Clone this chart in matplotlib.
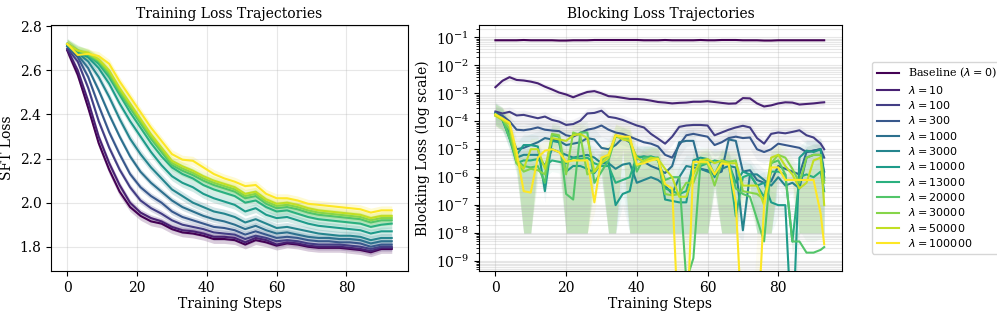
import numpy as np
import matplotlib
matplotlib.use("Agg")
import matplotlib.pyplot as plt
from matplotlib.ticker import LogLocator, NullFormatter

plt.rcParams['font.family'] = 'serif'

# lambda labels (same order for both panels)
labels = ['Baseline ($\\lambda=0$)', '$\\lambda=10$', '$\\lambda=100$', '$\\lambda=300$',
          '$\\lambda=1000$', '$\\lambda=3000$', '$\\lambda=10000$', '$\\lambda=13000$',
          '$\\lambda=20000$', '$\\lambda=30000$', '$\\lambda=50000$', '$\\lambda=100000$']

# ---- SFT loss, read every 3 training steps (0..93)
sft_steps = np.arange(0, 94, 3)
sft_base = [2.69, 2.58, 2.43, 2.27, 2.15, 2.05, 1.98, 1.94,
            1.915, 1.905, 1.88, 1.865, 1.86, 1.85, 1.835, 1.835,
            1.83, 1.81, 1.83, 1.82, 1.805, 1.815, 1.81, 1.80,
            1.795, 1.795, 1.795, 1.79, 1.785, 1.775, 1.79, 1.79]
sft_l10 = [2.695, 2.60, 2.46, 2.30, 2.18, 2.08, 2.00, 1.955,
           1.93, 1.915, 1.89, 1.875, 1.87, 1.86, 1.845, 1.845,
           1.84, 1.82, 1.84, 1.83, 1.81, 1.82, 1.815, 1.805,
           1.80, 1.80, 1.80, 1.795, 1.79, 1.78, 1.795, 1.795]
sft_l100 = [2.70, 2.64, 2.52, 2.37, 2.25, 2.15, 2.07, 2.01,
            1.975, 1.95, 1.92, 1.90, 1.89, 1.88, 1.865, 1.86,
            1.855, 1.835, 1.85, 1.84, 1.825, 1.83, 1.825, 1.815,
            1.81, 1.81, 1.81, 1.805, 1.80, 1.79, 1.80, 1.80]
sft_l300 = [2.71, 2.66, 2.57, 2.44, 2.32, 2.22, 2.13, 2.07,
            2.03, 2.00, 1.96, 1.935, 1.92, 1.905, 1.89, 1.885,
            1.875, 1.855, 1.87, 1.855, 1.84, 1.845, 1.84, 1.83,
            1.825, 1.825, 1.82, 1.82, 1.815, 1.80, 1.81, 1.81]
sft_l1000 = [2.71, 2.67, 2.61, 2.51, 2.40, 2.30, 2.21, 2.14,
             2.09, 2.05, 2.01, 1.98, 1.96, 1.94, 1.925, 1.915,
             1.90, 1.88, 1.895, 1.875, 1.86, 1.865, 1.855, 1.845,
             1.84, 1.84, 1.835, 1.835, 1.83, 1.815, 1.825, 1.825]
sft_l3000 = [2.71, 2.68, 2.64, 2.57, 2.48, 2.38, 2.29, 2.22,
             2.16, 2.11, 2.06, 2.03, 2.00, 1.98, 1.96, 1.95,
             1.935, 1.91, 1.925, 1.905, 1.885, 1.89, 1.88, 1.87,
             1.86, 1.855, 1.85, 1.85, 1.845, 1.83, 1.84, 1.84]
sft_l10000 = [2.72, 2.68, 2.66, 2.61, 2.54, 2.45, 2.37, 2.30,
              2.23, 2.17, 2.12, 2.09, 2.07, 2.04, 2.02, 2.005,
              1.99, 1.96, 1.975, 1.945, 1.93, 1.935, 1.92, 1.905,
              1.895, 1.89, 1.885, 1.88, 1.875, 1.86, 1.87, 1.87]
sft_l13000 = [2.72, 2.68, 2.67, 2.63, 2.57, 2.49, 2.41, 2.34,
              2.27, 2.21, 2.16, 2.13, 2.11, 2.08, 2.06, 2.045,
              2.03, 2.00, 2.01, 1.98, 1.96, 1.965, 1.95, 1.935,
              1.925, 1.92, 1.915, 1.91, 1.905, 1.89, 1.90, 1.905]
sft_l20000 = [2.72, 2.69, 2.67, 2.64, 2.58, 2.50, 2.43, 2.36,
              2.29, 2.23, 2.17, 2.145, 2.125, 2.10, 2.08, 2.065,
              2.05, 2.02, 2.03, 1.995, 1.975, 1.98, 1.97, 1.955,
              1.945, 1.94, 1.935, 1.93, 1.925, 1.91, 1.92, 1.92]
sft_l30000 = [2.72, 2.69, 2.675, 2.645, 2.59, 2.51, 2.44, 2.37,
              2.30, 2.24, 2.18, 2.155, 2.135, 2.11, 2.09, 2.075,
              2.06, 2.03, 2.04, 2.005, 1.985, 1.99, 1.98, 1.965,
              1.955, 1.95, 1.945, 1.94, 1.935, 1.92, 1.93, 1.93]
sft_l50000 = [2.72, 2.69, 2.68, 2.65, 2.60, 2.52, 2.45, 2.38,
              2.31, 2.25, 2.19, 2.165, 2.145, 2.12, 2.10, 2.085,
              2.07, 2.04, 2.05, 2.015, 1.995, 2.00, 1.99, 1.975,
              1.965, 1.96, 1.955, 1.95, 1.945, 1.93, 1.94, 1.94]
sft_l100000 = [2.72, 2.67, 2.675, 2.665, 2.63, 2.55, 2.48, 2.41,
               2.34, 2.28, 2.22, 2.195, 2.19, 2.16, 2.13, 2.11,
               2.095, 2.075, 2.08, 2.04, 2.02, 2.02, 2.01, 1.995,
               1.99, 1.985, 1.98, 1.975, 1.97, 1.955, 1.965, 1.965]
sft_std = [0.02, 0.015, 0.015, 0.015, 0.015, 0.02, 0.02, 0.02, 0.025, 0.02, 0.02, 0.02]

# ---- blocking loss, log10 values read every 2 steps (plus last step)
blk_steps = np.r_[np.arange(0, 93, 2), 93]
blk_base = [-1.10, -1.10, -1.10, -1.10, -1.09, -1.10, -1.10, -1.10,
            -1.10, -1.11, -1.11, -1.10, -1.10, -1.10, -1.09, -1.09,
            -1.09, -1.09, -1.09, -1.09, -1.09, -1.10, -1.10, -1.10,
            -1.09, -1.10, -1.10, -1.10, -1.10, -1.09, -1.10, -1.10,
            -1.09, -1.09, -1.09, -1.10, -1.10, -1.10, -1.11, -1.11,
            -1.10, -1.10, -1.10, -1.10, -1.10, -1.10, -1.10, -1.10]
blk_l10 = [-2.78, -2.55, -2.42, -2.52, -2.54, -2.58, -2.64, -2.76,
           -2.86, -2.97, -3.04, -3.14, -3.04, -2.95, -2.92, -3.00,
           -3.10, -3.12, -3.16, -3.20, -3.20, -3.22, -3.26, -3.31,
           -3.33, -3.36, -3.34, -3.33, -3.30, -3.30, -3.28, -3.31,
           -3.34, -3.37, -3.36, -3.17, -3.18, -3.36, -3.47, -3.43,
           -3.36, -3.32, -3.33, -3.40, -3.38, -3.36, -3.33, -3.32]
blk_l100 = [-3.65, -3.72, -3.66, -3.79, -3.77, -3.83, -3.89, -3.83,
            -3.95, -4.01, -4.13, -4.10, -3.98, -3.72, -3.70, -3.62,
            -3.84, -3.88, -3.95, -4.05, -4.15, -4.22, -4.45, -4.62,
            -4.80, -4.55, -4.20, -4.15, -4.13, -4.13, -4.15, -4.50,
            -4.40, -4.30, -4.22, -4.16, -4.22, -4.60, -4.80, -4.45,
            -4.40, -4.43, -4.38, -4.32, -4.50, -4.58, -4.80, -5.00]
blk_l300 = [-3.70, -3.80, -4.00, -4.30, -4.32, -4.28, -4.22, -4.30,
            -4.33, -4.35, -4.50, -4.55, -4.42, -4.30, -4.25, -4.15,
            -4.30, -4.40, -4.45, -4.55, -4.65, -4.75, -4.80, -4.90,
            -5.20, -5.30, -4.85, -4.50, -4.45, -4.50, -4.55, -4.85,
            -4.75, -4.60, -4.55, -4.60, -4.58, -5.00, -5.10, -5.00,
            -4.80, -4.85, -4.90, -4.95, -5.10, -5.05, -5.00, -5.30]
blk_l1000 = [-3.70, -3.90, -4.40, -5.00, -4.95, -4.85, -4.75, -4.60,
             -4.65, -4.70, -4.85, -4.80, -4.75, -4.60, -4.65, -4.95,
             -5.00, -4.85, -4.60, -4.75, -5.30, -5.45, -5.60, -5.70,
             -5.85, -5.60, -4.75, -4.70, -4.70, -5.70, -5.75, -5.90,
             -5.80, -4.65, -4.70, -5.80, -5.75, -6.10, -6.20, -6.15,
             -5.60, -5.70, -5.80, -5.90, -5.10, -5.05, -5.00, -6.00]
blk_l3000 = [-3.75, -3.90, -4.60, -5.30, -5.20, -5.20, -5.20, -5.60,
             -5.00, -5.10, -5.20, -5.30, -5.25, -5.20, -5.30, -5.50,
             -5.50, -5.70, -5.55, -5.50, -6.20, -6.10, -6.00, -6.10,
             -6.30, -6.60, -6.00, -5.60, -5.65, -5.70, -5.80, -5.90,
             -5.70, -5.60, -5.65, -7.90, -5.90, -5.90, -6.10, -6.30,
             -6.00, -6.30, -6.20, -6.40, -5.30, -5.20, -5.20, -5.80]
blk_l10000 = [-3.75, -3.95, -4.50, -5.20, -4.85, -4.85, -4.90, -6.50,
              -4.70, -4.75, -5.80, -5.60, -5.60, -5.70, -5.85, -5.50,
              -5.45, -7.00, -6.60, -6.50, -5.30, -5.25, -5.30, -5.30,
              -6.80, -6.85, -6.90, -6.90, -5.40, -5.30, -5.35, -6.00,
              -5.40, -5.50, -6.20, -5.80, -5.90, -6.30, -6.20, -6.90,
              -7.00, -7.00, -12.0, -5.30, -5.05, -5.10, -5.00, -6.10]
blk_l13000 = [-3.75, -3.95, -4.60, -5.50, -5.40, -5.40, -5.35, -5.60,
              -5.40, -5.45, -5.50, -5.30, -5.35, -5.30, -5.50, -5.60,
              -5.60, -6.20, -6.10, -6.00, -5.25, -5.30, -5.25, -5.35,
              -6.40, -6.50, -6.60, -6.50, -5.55, -5.60, -5.50, -5.40,
              -5.45, -5.50, -7.40, -6.00, -5.90, -6.30, -6.70, -5.80,
              -5.80, -5.90, -8.30, -6.00, -5.90, -6.00, -5.80, -6.50]
blk_l20000 = [-3.75, -3.90, -4.60, -5.40, -5.60, -5.65, -5.60, -6.20,
              -4.50, -4.55, -6.60, -6.80, -4.40, -4.40, -6.20, -5.80,
              -5.40, -4.55, -4.60, -4.70, -5.80, -5.30, -5.30, -5.40,
              -6.10, -6.00, -6.00, -9.70, -8.90, -5.50, -5.40, -5.90,
              -5.40, -5.45, -6.40, -6.60, -6.70, -7.50, -8.30, -5.50,
              -5.40, -5.90, -8.30, -8.30, -8.70, -8.70, -8.60, -8.50]
blk_l30000 = [-3.80, -3.90, -4.30, -5.50, -5.80, -5.70, -5.75, -5.90,
              -4.45, -4.50, -5.90, -4.40, -4.50, -5.90, -5.80, -5.40,
              -5.20, -4.50, -4.60, -4.60, -5.60, -5.40, -5.35, -5.30,
              -6.60, -6.65, -6.60, -6.20, -6.20, -5.50, -5.50, -6.30,
              -5.50, -5.45, -5.40, -6.50, -6.55, -6.60, -6.80, -5.50,
              -5.20, -5.30, -5.70, -6.20, -5.30, -5.20, -5.20, -6.20]
blk_l50000 = [-3.80, -3.95, -4.10, -5.40, -5.70, -5.00, -5.00, -5.70,
              -4.60, -4.65, -4.70, -4.50, -4.45, -4.60, -5.80, -5.50,
              -5.30, -4.50, -4.65, -4.70, -5.30, -5.45, -5.30, -5.35,
              -5.70, -6.00, -6.70, -6.70, -5.90, -5.40, -5.35, -5.50,
              -5.40, -5.50, -5.50, -6.30, -6.30, -6.30, -7.00, -5.30,
              -5.20, -5.60, -5.90, -6.40, -6.20, -5.40, -5.30, -7.00]
blk_l100000 = [-3.75, -3.90, -4.05, -5.10, -6.50, -6.55, -5.30, -5.05,
               -5.00, -5.10, -5.45, -5.40, -5.40, -5.40, -6.90, -5.30,
               -5.20, -4.50, -4.55, -4.55, -5.55, -5.50, -5.40, -5.35,
               -6.25, -6.40, -12.0, -12.0, -5.45, -5.45, -5.45, -5.90,
               -5.50, -5.55, -6.90, -12.0, -12.0, -12.0, -7.00, -5.65,
               -5.65, -6.10, -6.10, -6.10, -6.10, -6.10, -7.30, -8.40]
# relative spread of the shaded band around each mean
blk_spread = [0.1, 0.25, 0.5, 0.6, 1.5, 1.5, 1.5, 1.5, 1.5, 1.5, 1.5, 1.5]
# steps where the spread of the noisy runs reaches the 1e-8 floor
blk_deep = [0, 0, 0, 0, 1, 1, 0, 0,
            0, 0, 1, 1, 1, 1, 0, 0,
            1, 1, 0, 1, 1, 1, 1, 1,
            1, 1, 1, 1, 1, 1, 1, 0,
            1, 1, 1, 0, 0, 1, 1, 1,
            0, 0, 0, 1, 1, 1, 1, 1]

sft_all = [sft_base, sft_l10, sft_l100, sft_l300, sft_l1000, sft_l3000, sft_l10000,
           sft_l13000, sft_l20000, sft_l30000, sft_l50000, sft_l100000]
blk_all = [blk_base, blk_l10, blk_l100, blk_l300, blk_l1000, blk_l3000, blk_l10000,
           blk_l13000, blk_l20000, blk_l30000, blk_l50000, blk_l100000]

colors = plt.cm.viridis(np.linspace(0, 1, len(labels)))

fig = plt.figure(figsize=(9.97, 3.15), dpi=100)
ax1 = fig.add_axes([0.0512, 0.1397, 0.358, 0.781])
ax2 = fig.add_axes([0.4804, 0.1397, 0.364, 0.781])

# left: training loss
for i, y in enumerate(sft_all):
    y = np.array(y)
    ax1.fill_between(sft_steps, y - sft_std[i], y + sft_std[i], color=colors[i],
                     alpha=0.2, linewidth=0)
    ax1.plot(sft_steps, y, color=colors[i], lw=1.5, label=labels[i])
ax1.set_xlim(-4.65, 97.65)
ax1.set_ylim(1.69, 2.806)
ax1.set_title('Training Loss Trajectories', fontsize=10, pad=5)
ax1.set_xlabel('Training Steps', fontsize=10, labelpad=2)
ax1.set_ylabel('SFT Loss', fontsize=10)
ax1.grid(True, alpha=0.3)

# right: blocking loss (log)
deep = np.array(blk_deep, dtype=bool)
handles = []
for i, ly in enumerate(blk_all):
    m = 10.0 ** np.array(ly)
    s = blk_spread[i]
    if s >= 1:
        lo = np.where(deep, 1e-8, m / (1 + s))
    else:
        lo = m * (1 - s)
    hi = m * (1 + s)
    ax2.fill_between(blk_steps, lo, hi, color=colors[i], alpha=0.06, linewidth=0)
    (h,) = ax2.plot(blk_steps, m, color=colors[i], lw=1.5, label=labels[i])
    handles.append(h)
ax2.set_yscale('log')
ax2.set_xlim(-4.65, 98.0)
ax2.set_ylim(4.4e-10, 0.28)
ax2.yaxis.set_major_locator(LogLocator(base=10, numticks=20))
ax2.yaxis.set_minor_locator(LogLocator(base=10, subs=np.arange(2, 10), numticks=200))
ax2.yaxis.set_minor_formatter(NullFormatter())
ax2.set_title('Blocking Loss Trajectories', fontsize=10, pad=5)
ax2.set_xlabel('Training Steps', fontsize=10, labelpad=2)
ax2.set_ylabel('Blocking Loss (log scale)', fontsize=10)
ax2.grid(True, which='major', alpha=0.3)
ax2.yaxis.grid(True, which='minor', alpha=0.3)

ax2.legend(handles=handles, loc='center left', bbox_to_anchor=(1.068, 0.461),
           fontsize=8, labelspacing=0.3)

fig.savefig('out.png', dpi=100)
